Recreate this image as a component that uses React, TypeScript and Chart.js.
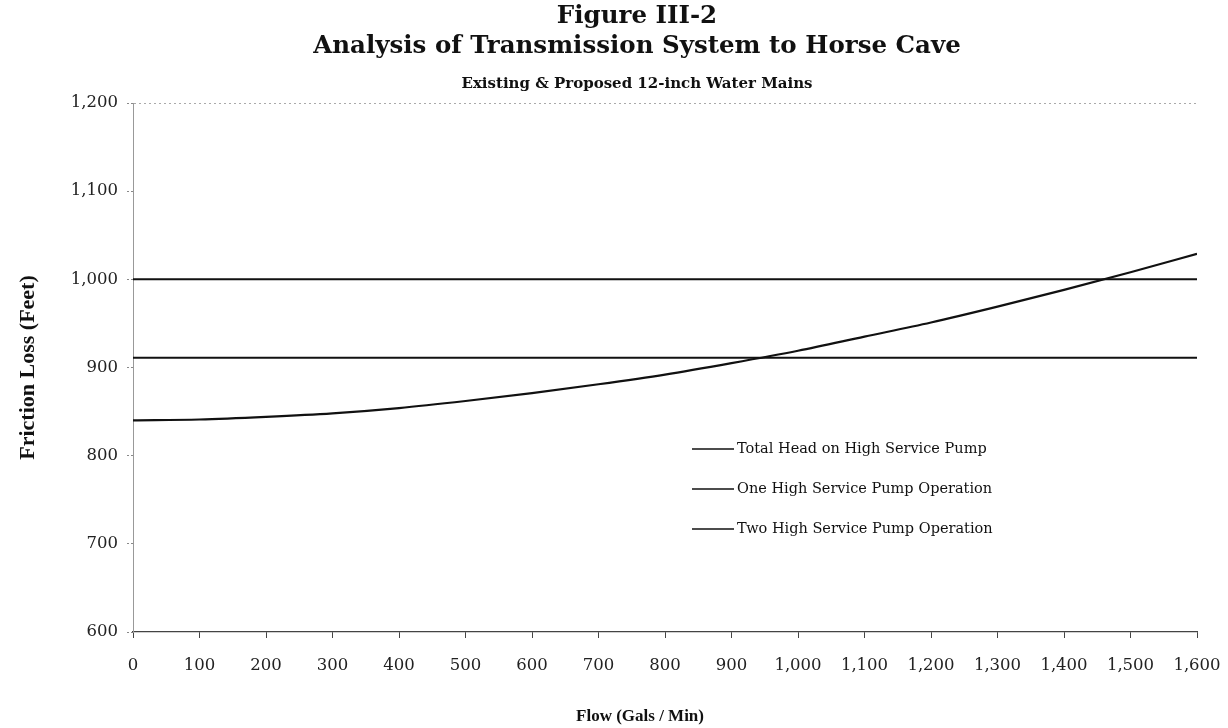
import React, { useEffect, useRef } from "react";
import { Chart, registerables } from "chart.js";

Chart.register(...registerables);

const titleLines = ["Figure III-2", "Analysis of Transmission System to Horse Cave"];
const subtitleText = "Existing & Proposed 12-inch Water Mains";
const xAxisTitle = "Flow (Gals / Min)";
const yAxisTitle = "Friction Loss (Feet)";

const flows = [0, 100, 200, 300, 400, 500, 600, 700, 800, 900, 1000, 1100, 1200, 1300, 1400, 1500, 1600];
const totalHead = [840, 841, 844, 848, 854, 862, 871, 881, 892, 905, 919, 935, 951, 969, 988, 1008, 1029];
const onePumpHead = [911, 911, 911, 911, 911, 911, 911, 911, 911, 911, 911, 911, 911, 911, 911, 911, 911];
const twoPumpHead = [1000, 1000, 1000, 1000, 1000, 1000, 1000, 1000, 1000, 1000, 1000, 1000, 1000, 1000, 1000, 1000, 1000];
const seriesLabels = ["Total Head on High Service Pump", "One High Service Pump Operation", "Two High Service Pump Operation"];

const xMin = 0;
const xMax = 1600;
const xStep = 100;
const yMin = 600;
const yMax = 1200;
const yStep = 100;

const fmt = (v: number) => Number(v).toLocaleString("en-US");

const textPlugin = {
  id: "figureText",
  afterDraw(chart: any) {
    const { ctx, chartArea } = chart;
    const cx = (chartArea.left + chartArea.right) / 2;
    ctx.save();
    ctx.fillStyle = "#111";
    ctx.textAlign = "center";
    ctx.textBaseline = "middle";
    ctx.font = "bold 24.5px 'DejaVu Serif'";
    ctx.fillText(titleLines[0], cx - 28, 17);
    ctx.fillText(titleLines[1], cx - 28, 47);
    ctx.font = "bold 15px 'DejaVu Serif'";
    ctx.fillText(subtitleText, cx - 28, 84);
    ctx.font = "bold 17px 'Liberation Serif'";
    ctx.fillText(xAxisTitle, cx - 25, 717);

    // legend inside plot
    const lx = 692;
    const rows = [449, 489, 529];
    chart.data.datasets.forEach((ds: any, i: number) => {
      const y = rows[i];
      ctx.strokeStyle = "#111";
      ctx.lineWidth = 1.6;
      ctx.beginPath();
      ctx.moveTo(lx, y);
      ctx.lineTo(lx + 42, y);
      ctx.stroke();
      ctx.font = "14.5px 'DejaVu Serif'";
      ctx.textAlign = "left";
      ctx.fillText(ds.label, lx + 45, y);
    });
    ctx.restore();
  },
};

export default function App() {
  const ref = useRef<HTMLCanvasElement | null>(null);
  useEffect(() => {
    if (!ref.current) return;
    const mk = (vals: number[]) => flows.map((f, i) => ({ x: f, y: vals[i] }));
    const chart = new Chart(ref.current, {
      type: "line",
      data: {
        datasets: [
          { label: seriesLabels[0], data: mk(totalHead), borderColor: "#111", borderWidth: 2.2, pointRadius: 0, cubicInterpolationMode: "monotone" },
          { label: seriesLabels[1], data: mk(onePumpHead), borderColor: "#111", borderWidth: 2, pointRadius: 0 },
          { label: seriesLabels[2], data: mk(twoPumpHead), borderColor: "#111", borderWidth: 2, pointRadius: 0 },
        ],
      },
      options: {
        animation: false,
        responsive: false,
        layout: { padding: { top: 103, right: 31, left: 0, bottom: 0 } },
        plugins: { legend: { display: false }, title: { display: false }, tooltip: { enabled: false } },
        scales: {
          x: {
            type: "linear",
            min: xMin,
            max: xMax,
            ticks: { stepSize: xStep, callback: (v: any) => fmt(v), font: { family: "'DejaVu Serif'", size: 16.5 }, color: "#222", padding: 18, maxRotation: 0 },
            grid: { drawOnChartArea: false, drawTicks: true, tickLength: 6, color: "#444" },
            border: { display: true, color: "#444", width: 1.2 },
            afterFit: (s: any) => { s.height = 96; s.paddingLeft = 0; s.paddingRight = 0; },
          },
          y: {
            min: yMin,
            max: yMax,
            ticks: { stepSize: yStep, callback: (v: any) => fmt(v), font: { family: "'DejaVu Serif'", size: 16.5 }, color: "#222", padding: 9 },
            grid: {
              drawOnChartArea: true,
              drawTicks: true,
              tickLength: 6,
              color: (c: any) => (c.tick && c.tick.value === yMax ? "#aaa" : "rgba(0,0,0,0)"),
              tickColor: "#888",
              tickBorderDash: [2, 2],
            },
            border: { display: true, color: "#999", dash: [2, 3], width: 1 },
            title: { display: true, text: yAxisTitle, font: { family: "'Liberation Serif'", size: 22, weight: "bold" }, color: "#111", padding: { top: 15, bottom: 0 } },
            afterFit: (s: any) => { s.width = 133; s.paddingTop = 0; s.paddingBottom = 0; },
          },
        },
      },
      plugins: [textPlugin],
    } as any);
    return () => chart.destroy();
  }, []);
  return (
    <div style={{ position: "fixed", left: 0, top: 0, width: 1228, height: 728, background: "#fff" }}>
      <canvas ref={ref} width={1228} height={728} style={{ width: 1228, height: 728 }} />
    </div>
  );
}
